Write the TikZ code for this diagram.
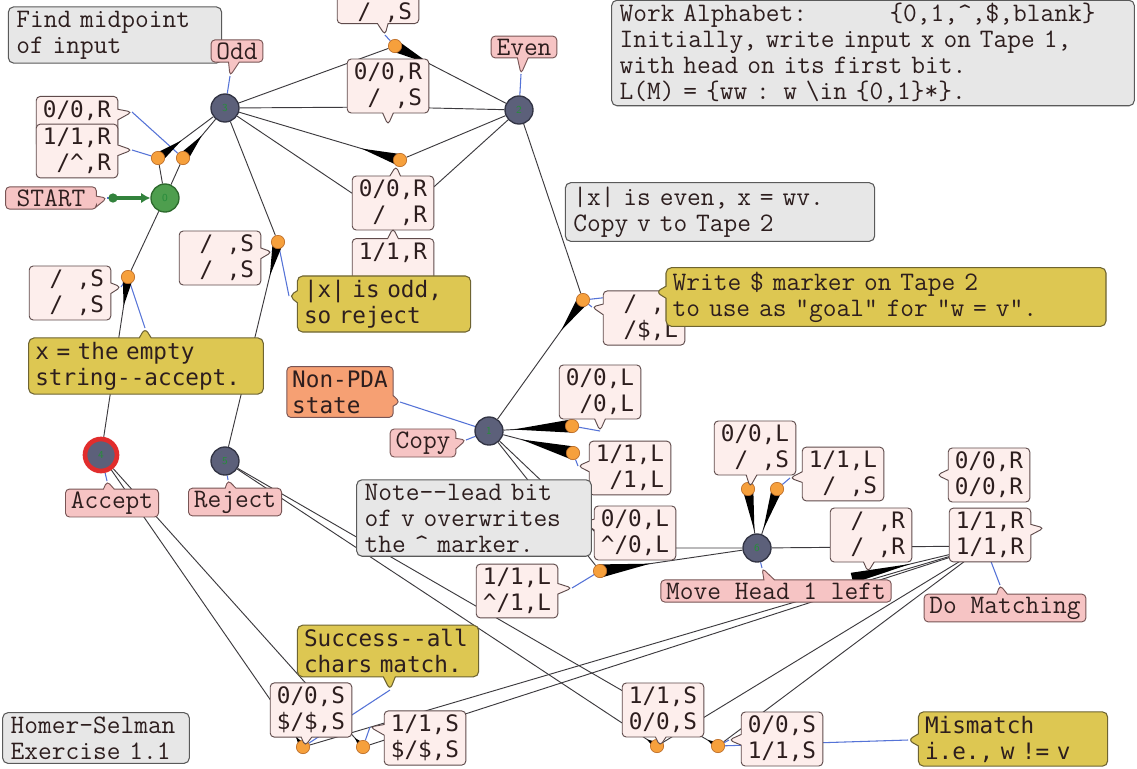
\documentclass[tikz,border=0pt]{standalone}
\usepackage{fontspec}
\newfontfamily\dvm{DejaVu Sans Mono}
\usetikzlibrary{shapes.callouts,calc,arrows.meta}
\pgfdeclarelayer{bg}
\pgfsetlayers{bg,main}
\definecolor{tlinec}{RGB}{60,58,62}
\definecolor{blinec}{RGB}{85,115,215}
\definecolor{labfill}{RGB}{253,238,236}
\definecolor{labline}{RGB}{95,75,75}
\definecolor{slabfill}{RGB}{246,196,196}
\definecolor{slabline}{RGB}{120,85,85}
\definecolor{gfill}{RGB}{231,231,231}
\definecolor{gline}{RGB}{90,90,90}
\definecolor{yfill}{RGB}{221,199,82}
\definecolor{yline}{RGB}{110,100,50}
\definecolor{ofill}{RGB}{246,160,115}
\definecolor{stfill}{RGB}{92,96,122}
\definecolor{stline}{RGB}{50,52,68}
\definecolor{gstfill}{RGB}{78,158,78}
\definecolor{gstline}{RGB}{45,105,45}
\definecolor{mkfill}{RGB}{246,160,60}
\definecolor{mkline}{RGB}{190,110,40}
\definecolor{accred}{RGB}{225,45,45}
\definecolor{textc}{RGB}{45,30,30}
\definecolor{numc}{RGB}{40,140,60}
\definecolor{startg}{RGB}{50,130,60}
\newcommand\labfont{\dvm\fontsize{17}{19.5}\selectfont}
\newcommand\notefont{\ttfamily\fontsize{20}{19.5}\selectfont}
\newcommand\bl{\phantom{0}}
\newcommand\crt{\textasciicircum}
\newcommand\dsh{-\kern0pt-}
\newcommand\tw[4]{\fill[black] ($(#1)!#4!90:(#2)$) -- ($(#1)!#3!(#2)$) -- ($(#1)!#4!-90:(#2)$) -- cycle;}
\begin{document}
\begin{tikzpicture}[x=0.75pt,y=-0.75pt,
 tline/.style={draw=tlinec,line width=0.7pt},
 bline/.style={draw=blinec,line width=0.8pt},
 state/.style={circle,draw=stline,fill=stfill,line width=1pt,minimum size=21pt,inner sep=0pt,font=\sffamily\fontsize{8}{8}\selectfont,text=numc},
 tmk/.style={circle,draw=mkline,fill=mkfill,line width=0.5pt,minimum size=10pt,inner sep=0pt},
 tlab/.style={rectangle callout,callout pointer width=8pt,rounded corners=3pt,draw=labline,fill=labfill,line width=0.7pt,font=\labfont,align=left,inner xsep=5pt,inner ysep=3pt,text=textc},
 slab/.style={rectangle callout,callout pointer width=8pt,rounded corners=3pt,draw=slabline,fill=slabfill,line width=0.7pt,font=\notefont,inner xsep=4pt,inner ysep=2pt,text=textc},
 gnote/.style={rectangle,rounded corners=4pt,draw=gline,fill=gfill,line width=0.8pt,font=\notefont,align=left,inner xsep=6pt,inner ysep=3pt,text=textc},
 ynote/.style={rectangle callout,callout pointer width=9pt,rounded corners=4pt,draw=yline,fill=yfill,line width=0.8pt,font=\labfont,align=left,inner xsep=5pt,inner ysep=3pt,text=textc}]
\useasboundingbox (0,0) rectangle (1137,768);
% hidden points and pointer tips
\coordinate (s7) at (985,546);
\coordinate (h1) at (388,107);
\coordinate (h2) at (395,222);
\coordinate (h3) at (612,548);
\coordinate (mh) at (852,578);
\coordinate (gdot) at (113,198);
\coordinate (tOdd) at (230,76);
\coordinate (tEven) at (521,74);
\coordinate (tStart) at (107,198);
\coordinate (tCopy) at (466,440);
\coordinate (tNon) at (400,402);
\coordinate (tAcc) at (107,481);
\coordinate (tRej) at (228,480);
\coordinate (tMove) at (762,568);
\coordinate (tDo) at (1000,585);
\coordinate (tA1) at (132,112);
\coordinate (tA2) at (132,150);
\coordinate (tB0) at (385,35);
\coordinate (tB1) at (388,125);
\coordinate (tB2) at (396,166);
\coordinate (tB3) at (393,228);
\coordinate (tC1) at (272,252);
\coordinate (tC2) at (121,287);
\coordinate (tD) at (592,307);
\coordinate (tE1) at (600,431);
\coordinate (tE2) at (578,466);
\coordinate (tF1) at (582,522);
\coordinate (tF2) at (572,588);
\coordinate (tG1) at (750,487);
\coordinate (tG2) at (790,478);
\coordinate (tH) at (868,572);
\coordinate (tI1) at (937,475);
\coordinate (tI2) at (1044,528);
\coordinate (tJ1) at (305,746);
\coordinate (tJ2) at (370,727);
\coordinate (tK1) at (660,746);
\coordinate (tK2) at (729,740);
\coordinate (tOddN) at (289,296);
\coordinate (tEmpty) at (145,328);
\coordinate (tWrite) at (656,292);
\coordinate (tSucc) at (390,690);
\coordinate (tMis) at (908,740);
% states
\node[state,fill=gstfill,draw=gstline] (s0) at (165,198) {0};
\node[state] (s3) at (225,108) {3};
\node[state] (s2) at (519,110) {2};
\node[state] (s1) at (489,431) {1};
\node[state,draw=accred,line width=3.5pt,minimum size=24pt] (s4) at (101,455) {4};
\node[state] (s5) at (225,461) {5};
\node[state] (s6) at (757,548) {6};
% transition markers
\node[tmk] (m1) at (158,158) {};
\node[tmk] (m2) at (183,158) {};
\node[tmk] (m3) at (128,277) {};
\node[tmk] (m4) at (278,242) {};
\node[tmk] (m5) at (395,46) {};
\node[tmk] (m6) at (400,160) {};
\node[tmk] (m7) at (583,300) {};
\node[tmk] (m8) at (572,426) {};
\node[tmk] (m9) at (573,453) {};
\node[tmk] (m10) at (600,571) {};
\node[tmk] (m11) at (748,489) {};
\node[tmk] (m12) at (777,489) {};
\node[tmk] (m13) at (303,747) {};
\node[tmk] (m14) at (363,747) {};
\node[tmk] (m15) at (657,746) {};
\node[tmk] (m16) at (718,746) {};
\begin{pgfonlayer}{bg}
\fill[white] (0,0) rectangle (1137,768);
\draw[tline] (s0) -- (m1) -- (s3);
\draw[tline] (s0) -- (m2) -- (s3);
\draw[tline] (s0) -- (m3) -- (s4);
\draw[tline] (s3) -- (m4) -- (s5);
\draw[tline] (s3) -- (m5) -- (s2);
\draw[tline] (s3) -- (h1) -- (s2);
\draw[tline] (s2) -- (m6) -- (s3);
\draw[tline] (s3) -- (h2) -- (s2);
\draw[tline] (s2) -- (m7) -- (s1);
\draw[tline] (s1) -- (m8);
\draw[tline] (s1) -- (m9);
\draw[tline] (s1) -- (m10) -- (s6);
\draw[tline] (s1) -- (h3) -- (s6);
\draw[tline] (s6) -- (m11);
\draw[tline] (s6) -- (m12);
\draw[tline] (s6) -- (s7);
\draw[tline] (s7) -- (m13) -- (s4);
\draw[tline] (s7) -- (m14) -- (s4);
\draw[tline] (s7) -- (m15) -- (s5);
\draw[tline] (s7) -- (m16) -- (s5);
\draw[tline] (mh) -- (s7);
% label leader lines
\draw[bline] (tOdd) -- (s3);
\draw[bline] (tEven) -- (s2);
\draw[bline] (tStart) -- (gdot);
\draw[bline] (tCopy) -- (s1);
\draw[bline] (tNon) -- (s1);
\draw[bline] (tAcc) -- (s4);
\draw[bline] (tRej) -- (s5);
\draw[bline] (tMove) -- (s6);
\draw[bline] (tDo) -- (s7);
\draw[bline] (tA1) -- (m2);
\draw[bline] (tA2) -- (m1);
\draw[bline] (tB0) -- (m5);
\draw[bline] (tB2) -- (m6);
\draw[bline] (tC1) -- (m4);
\draw[bline] (m4) -- (tOddN);
\draw[bline] (tC2) -- (m3);
\draw[bline] (m3) -- (tEmpty);
\draw[bline] (tD) -- (m7);
\draw[bline] (m7) -- (tWrite);
\draw[bline] (tE1) -- (m8);
\draw[bline] (tE2) -- (m9);
\draw[bline] (tF2) -- (m10);
\draw[bline] (tG1) -- (m11);
\draw[bline] (tG2) -- (m12);
\draw[bline] (tJ1) -- (m13);
\draw[bline] (tSucc) -- (m13);
\draw[bline] (tJ2) -- (m14);
\draw[bline] (tK1) -- (m15);
\draw[bline] (tK2) -- (m16);
\draw[bline] (tMis) -- (m16);
% start arrow
\fill[startg] (gdot) circle (3.5pt);
\draw[startg,line width=2.5pt,-{Latex[length=7pt,width=8pt]}] (gdot) -- (s0);
% direction wedges
\tw{m1}{s3}{22pt}{4pt}
\tw{m2}{s3}{22pt}{4pt}
\tw{m3}{s4}{22pt}{4pt}
\tw{m4}{s5}{26pt}{4pt}
\tw{m5}{s2}{30pt}{4.5pt}
\tw{m6}{s3}{30pt}{4.5pt}
\tw{m7}{s1}{28pt}{4.5pt}
\tw{m8}{s1}{44pt}{5pt}
\tw{m9}{s1}{40pt}{5pt}
\tw{m10}{s6}{38pt}{5pt}
\tw{m11}{s6}{32pt}{4pt}
\tw{m12}{s6}{32pt}{4pt}
\tw{m13}{s4}{9pt}{3pt}
\tw{m14}{s4}{9pt}{3pt}
\tw{m15}{s5}{9pt}{3pt}
\tw{m16}{s5}{9pt}{3pt}
\tw{mh}{s7}{45pt}{4pt}
\end{pgfonlayer}
% transition labels
\node[tlab,callout absolute pointer={(tA1)}] (A1) at (77,122) {0/0,R\\\bl};
\node[tlab,callout absolute pointer={(tA2)}] (A2) at (77,151) {1/1,R\\\bl/\crt,R};
\node[tlab,anchor=south,inner ysep=1pt,callout absolute pointer={(tB0)}] (B0) at (378,24) {\bl\\\bl/\bl,S};
\node[tlab,callout absolute pointer={(tB1)}] (B1) at (388,86) {0/0,R\\\bl/\bl,S};
\node[tlab,callout absolute pointer={(tB2)}] (B2) at (393,203) {0/0,R\\\bl/\bl,R};
\node[tlab,callout absolute pointer={(tB3)}] (B3) at (393,264) {1/1,R\\\bl};
\node[tlab,callout absolute pointer={(tC1)}] (C1) at (220,258) {\bl/\bl,S\\\bl/\bl,S};
\node[tlab,callout absolute pointer={(tC2)}] (C2) at (70,293) {\bl/\bl,S\\\bl/\bl,S};
\node[tlab,callout absolute pointer={(tD)}] (D) at (644,318) {\bl/\bl,\bl\\\bl/\$,L};
\node[tlab,callout absolute pointer={(tE1)}] (E1) at (600,392) {0/0,L\\\bl/0,L};
\node[tlab,callout absolute pointer={(tE2)}] (E2) at (630,468) {1/1,L\\\bl/1,L};
\node[tlab,callout absolute pointer={(tF1)}] (F1) at (635,533) {0/0,L\\\crt/0,L};
\node[tlab,callout absolute pointer={(tF2)}] (F2) at (517,591) {1/1,L\\\crt/1,L};
\node[tlab,callout absolute pointer={(tG1)}] (G1) at (755,448) {0/0,L\\\bl/\bl,S};
\node[tlab,callout absolute pointer={(tG2)}] (G2) at (843,474) {1/1,L\\\bl/\bl,S};
\node[tlab,callout absolute pointer={(tH)}] (H) at (871,535) {\bl/\bl,R\\\bl/\bl,R};
\node[tlab,callout absolute pointer={(tI1)}] (I1) at (989,475) {0/0,R\\0/0,R};
\node[tlab,callout absolute pointer={(tI2)}] (I2) at (990,535) {1/1,R\\1/1,R};
\node[tlab,callout absolute pointer={(tJ1)}] (J1) at (311,710) {0/0,S\\\$/\$,S};
\node[tlab,callout absolute pointer={(tJ2)}] (J2) at (425,738) {1/1,S\\\$/\$,S};
\node[tlab,callout absolute pointer={(tK1)}] (K1) at (663,710) {1/1,S\\0/0,S};
\node[tlab,callout absolute pointer={(tK2)}] (K2) at (782,739) {0/0,S\\1/1,S};
% grey notes
\node[gnote,text width=148pt] (nFind) at (115,35) {Find midpoint\\of input};
\node[gnote,text width=380pt,inner ysep=2pt] (nWork) at (873,53) {Work Alphabet:\phantom{xxxxxx}\{0,1,\crt,\$,blank\}\\Initially, write input x on Tape 1,\\with head on its first bit.\\L(M) = \{ww : w \textbackslash in \{0,1\}*\}.};
\node[gnote,text width=220pt] (nEven) at (720,212) {|x| is even, x = wv.\\Copy v to Tape 2};
\node[gnote,text width=164pt] (nLead) at (474,518) {Note\dsh lead bit\\of v overwrites\\the \crt{} marker.};
\node[gnote,text width=128pt] (nHS) at (96,738) {Homer-Selman\\Exercise 1.1};
% state name labels
\node[slab,callout absolute pointer={(tOdd)}] (Lodd) at (237,51) {Odd};
\node[slab,callout absolute pointer={(tEven)}] (Leven) at (524,47) {Even};
\node[slab,minimum width=68pt,callout absolute pointer={(tStart)}] (Lstart) at (51,198) {START};
\node[slab,callout absolute pointer={(tCopy)}] (Lcopy) at (423,443) {Copy};
\node[slab,callout absolute pointer={(tAcc)}] (Lacc) at (112,503) {Accept};
\node[slab,callout absolute pointer={(tRej)}] (Lrej) at (235,502) {Reject};
\node[slab,callout absolute pointer={(tMove)}] (Lmove) at (776,591) {Move Head 1 left};
\node[slab,callout absolute pointer={(tDo)}] (Ldo) at (1005,608) {Do Matching};
\node[slab,fill=ofill,font=\labfont,align=left,inner ysep=3pt,callout absolute pointer={(tNon)}] (Lnon) at (340,392) {Non-PDA\\state};
% yellow notes
\node[ynote,text width=120pt,callout absolute pointer={(tOddN)}] (yOdd) at (384,304) {|x| is odd,\\so reject};
\node[ynote,text width=166pt,callout absolute pointer={(tEmpty)}] (yEmpty) at (146,366) {x = the empty\\string\dsh accept.};
\node[ynote,font=\notefont,text width=320pt,callout absolute pointer={(tWrite)}] (yWrite) at (886,297) {Write \$ marker on Tape 2\\to use as "goal" for "w = v".};
\node[ynote,text width=126pt,callout absolute pointer={(tSucc)}] (ySucc) at (388,651) {Success\dsh all\\chars match.};
\node[ynote,text width=132pt,callout absolute pointer={(tMis)}] (yMis) at (1013,739) {Mismatch\\i.e., w != v};
\end{tikzpicture}
\end{document}
